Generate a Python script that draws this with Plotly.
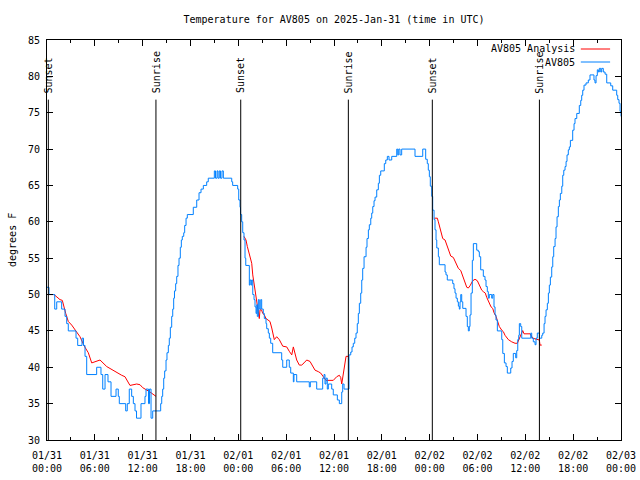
import pandas as pd
import plotly.graph_objects as go

START = "2025-01-31 00:00"
TITLE = "Temperature for AV805 on 2025-Jan-31 (time in UTC)"

# Observations (hours after 01/31 00:00 UTC, degrees F)
obs_hours = [0.0, 0.25, 0.97, 1.22, 1.84, 2.26, 2.47, 2.67, 3.64, 3.85, 4.39, 4.58, 4.77, 4.98,
             6.23, 6.77, 6.99, 7.28, 7.65, 8.03, 8.66, 8.94, 9.07, 9.87, 10.07, 10.32, 10.62,
             10.83, 11.04, 11.23, 11.79, 12.29, 12.42, 12.73, 12.86, 13.05, 13.26, 14.26, 14.39,
             14.51, 14.64, 14.76, 14.93, 15.05, 15.22, 15.34, 15.47, 15.64, 15.77, 15.89, 15.99,
             16.14, 16.27, 16.43, 16.56, 16.72, 16.85, 16.97, 17.15, 17.27, 17.44, 17.6, 18.35,
             18.78, 19.07, 19.32, 19.61, 20.03, 20.23, 20.99, 21.14, 21.33, 21.45, 21.61, 21.76,
             21.95, 22.12, 23.17, 23.29, 23.92, 24.05, 24.21, 24.27, 24.42, 24.55, 24.71, 24.84,
             24.93, 25.38, 25.47, 25.6, 25.68, 25.81, 25.97, 26.09, 26.22, 26.31, 26.38, 26.51,
             26.63, 26.81, 26.93, 27.13, 27.26, 27.47, 27.56, 27.76, 27.89, 28.06, 28.31, 29.44,
             29.57, 30.07, 30.39, 30.57, 30.9, 30.98, 31.32, 32.9, 33.03, 33.83, 34.58, 34.75,
             34.87, 35.0, 35.16, 35.29, 35.71, 35.91, 36.42, 36.67, 36.97, 37.09, 37.26, 37.88,
             38.1, 38.26, 38.42, 38.6, 38.76, 38.92, 39.05, 39.18, 39.35, 39.48, 39.6, 39.77,
             40.02, 40.14, 40.31, 40.43, 40.61, 40.73, 40.86, 41.02, 41.15, 41.36, 41.56, 41.69,
             41.86, 42.31, 42.49, 42.69, 42.9, 43.24, 43.87, 44.0, 44.12, 44.28, 44.49, 46.16,
             47.13, 47.5, 47.7, 47.83, 47.96, 48.08, 48.26, 48.38, 48.55, 48.67, 48.8, 48.89,
             49.09, 49.21, 49.93, 50.05, 50.21, 50.89, 51.05, 51.18, 51.31, 51.47, 51.6, 51.72,
             51.81, 51.9, 52.02, 52.15, 52.56, 52.72, 52.85, 52.97, 53.06, 53.19, 53.35, 53.48,
             53.9, 54.1, 54.23, 54.4, 54.73, 54.94, 55.07, 55.23, 55.36, 55.48, 55.78, 55.91,
             56.07, 56.2, 56.32, 56.49, 57.04, 57.17, 57.37, 57.58, 57.74, 58.17, 58.33, 58.49,
             58.79, 58.92, 59.05, 59.17, 59.25, 59.42, 59.55, 60.68, 60.8, 61.0, 61.22, 61.34,
             61.5, 61.76, 62.06, 62.18, 62.35, 62.47, 62.6, 62.76, 62.89, 63.01, 63.14, 63.31,
             63.44, 63.56, 63.73, 63.85, 63.98, 64.14, 64.27, 64.39, 64.57, 64.69, 64.82, 64.98,
             65.11, 65.23, 65.39, 65.52, 65.65, 65.94, 66.11, 66.23, 66.45, 66.77, 66.95, 67.07,
             67.2, 67.36, 67.61, 67.9, 68.11, 68.61, 68.74, 68.87, 69.03, 69.16, 69.28, 69.46,
             69.58, 69.78, 70.0, 70.21, 70.71, 70.96, 71.46, 71.59, 71.75, 71.88, 72.0]
obs_temp = [51, 50, 48, 49, 48, 47, 46, 45, 44, 43, 44, 43, 41.5, 39,
            40, 39, 37, 39, 38, 36, 37, 36, 35, 34, 35, 37, 36,
            35, 34, 33, 35, 36, 37, 35, 37, 33, 34, 35, 36,
            37, 38.5, 39.5, 41, 42, 43, 44, 45.5, 47, 48, 49.5, 50.5,
            51.5, 52.5, 54, 55, 56.5, 57.5, 58, 58.5, 59.5, 60.5, 61, 62,
            63, 64, 64.5, 65, 65.5, 66, 67, 66, 67, 66, 67, 66,
            67, 66, 65.5, 65, 64.5, 63, 62, 61, 60, 58.5, 57.5, 55,
            54, 51.3, 52, 51.3, 52, 50, 49.3, 48.3, 47.4, 48.6, 47, 49.3,
            48, 49.3, 48, 47.4, 46.7, 46, 45.3, 44.7, 44, 43.3, 42, 41,
            40, 41, 40, 39.2, 38, 39, 38, 37.3, 38, 37, 38.5, 39,
            37.7, 38.5, 37, 37.7, 37, 36.2, 35.5, 35, 36.6, 37.7, 37, 41.7,
            42.1, 42.8, 43.3, 44, 44.7, 46, 47.4, 48.8, 50.2, 52, 53.6, 55.2,
            56.5, 57.7, 58.9, 59.6, 60.5, 61.2, 62.1, 62.9, 63.4, 64.4, 65.3, 66.4,
            67, 68, 68.5, 69, 68.5, 69, 70, 69.2, 70, 69.2, 70, 69,
            70, 68.6, 68, 67.1, 66.2, 64.9, 63.5, 61.6, 60.3, 58.9, 57.5, 56.4,
            55.2, 54.1, 53.1, 52.7, 52, 51.5, 50.8, 50.2, 49.5, 49, 48.4, 48,
            49, 50, 49, 48.1, 47, 45.6, 45, 45.6, 47.2, 50.2, 54.7, 57,
            56.1, 55.9, 55.2, 53.4, 52.5, 52, 51.1, 50.4, 49.5, 50, 49.5, 50,
            48.3, 47.2, 46.5, 45, 43.8, 41.9, 40.6, 40.1, 39.2, 39.9, 40.8, 41.9,
            41.3, 42.3, 43.8, 44.4, 46, 45.6, 44, 44.7, 44, 43.5, 43.1, 44,
            44.7, 44, 44.4, 44.7, 46, 47, 47.9, 48.8, 50.2, 51.3, 52.4, 53.8,
            55.2, 56.6, 57.7, 59.3, 60.7, 62.1, 63, 63.9, 64.9, 66.4, 67.1, 67.6,
            68.3, 69.2, 69.9, 70.3, 71.2, 72.6, 73.5, 74.2, 74.9, 76, 76.7, 77.4,
            78.1, 78.8, 79.1, 79.5, 80.2, 79.5, 79.1, 80.1, 80.9, 80.6, 81.1, 80.6,
            81.1, 80.6, 80.3, 79.1, 78.7, 78.1, 77.4, 76.8, 76.3, 75.2, 74.5]

# Analysis (three night-time segments)
ana1_hours = [0.1, 0.88, 1.63, 1.92, 2.35, 2.67, 3.1, 3.64, 4.14, 4.68, 5.18, 5.61, 6.02, 6.65,
              7.49, 8.53, 9.37, 9.78, 10.41, 11.25, 11.67, 12.0, 12.51, 12.92, 13.67]
ana1_temp = [50.0, 50.0, 49.3, 49.2, 47.4, 46.3, 45.8, 45.0, 44.2, 42.9, 42.0, 40.6, 40.8, 41.0,
             40.1, 39.4, 38.9, 38.7, 37.5, 37.7, 37.6, 37.2, 36.9, 36.6, 36.0]
ana2_hours = [24.71, 24.96, 25.13, 25.34, 25.55, 25.68, 25.81, 25.97, 26.09, 26.22, 26.38, 26.56,
              26.63, 26.72, 26.91, 27.06, 27.26, 27.47, 27.76, 27.97, 28.19, 28.31, 28.51, 28.81,
              29.14, 29.57, 30.07, 30.39, 30.7, 30.9, 31.11, 31.32, 31.65, 31.95, 32.24, 32.58,
              32.99, 33.33, 33.62, 34.03, 34.33, 34.66, 35.0, 35.91, 36.34, 36.67, 36.84, 36.97,
              37.09, 37.38, 37.51, 37.8]
ana2_temp = [58.0, 57.5, 56.6, 55.7, 54.5, 54.3, 52.7, 51.5, 50.4, 49.3, 48.3, 47.2,
             46.7, 47.9, 47.9, 47.4, 47.2, 46.7, 46.5, 46.3, 45.4, 44.7, 43.8, 44.2,
             43.8, 42.9, 42.8, 42.2, 41.7, 42.8, 41.9, 41.0, 40.3, 40.3, 40.6, 41.0,
             40.8, 40.1, 39.6, 39.4, 39.2, 38.7, 38.2, 38.2, 38.7, 38.9, 38.6, 37.7,
             38.5, 40.3, 41.5, 41.5]
ana3_hours = [48.58, 48.96, 49.09, 49.21, 49.39, 49.64, 49.93, 50.14, 50.34, 50.64, 50.97, 51.31,
              51.6, 51.9, 52.15, 52.43, 52.65, 52.85, 53.06, 53.4, 53.69, 53.98, 54.23, 54.53,
              54.73, 54.98, 55.16, 55.36, 55.57, 55.7, 55.91, 56.07, 56.32, 56.54, 56.74, 57.04,
              57.24, 57.45, 57.67, 57.87, 58.29, 58.71, 59.0, 59.21, 59.46, 59.67, 59.84, 60.59,
              60.93, 61.22, 61.5, 61.76, 61.84, 62.06]
ana3_temp = [60.5, 60.5, 60.0, 59.4, 58.7, 57.7, 57.5, 56.8, 56.1, 55.3, 55.1, 54.3,
             53.6, 53.3, 52.5, 51.6, 51.0, 50.9, 51.2, 51.9, 52.1, 51.9, 51.3, 50.6,
             50.4, 50.2, 49.6, 49.1, 48.6, 48.3, 48.1, 47.5, 47.0, 46.3, 45.6, 45.1,
             44.9, 44.4, 44.0, 43.8, 43.5, 43.3, 43.3, 43.8, 44.4, 45.05, 44.6, 44.6,
             44.0, 43.9, 43.75, 43.75, 43.05, 43.05]

# Sun events
sun_times = ["2025-01-31 00:10", "2025-01-31 13:40", "2025-02-01 00:18",
             "2025-02-01 13:48", "2025-02-02 00:20", "2025-02-02 13:46"]
sun_labels = ["Sunset", "Sunrise", "Sunset", "Sunrise", "Sunset", "Sunrise"]

RED = "#ff0000"
BLUE = "#0080ff"
FONT = "DejaVu Sans Mono"
FS = 10

t0 = pd.Timestamp(START)


def to_time(hours):
    return [t0 + pd.Timedelta(hours=h) for h in hours]


fig = go.Figure()
for hrs, tmp in [(ana1_hours, ana1_temp), (ana2_hours, ana2_temp), (ana3_hours, ana3_temp)]:
    fig.add_trace(go.Scatter(x=to_time(hrs), y=tmp, mode="lines",
                             line=dict(color=RED, width=1), showlegend=False, hoverinfo="skip"))
fig.add_trace(go.Scatter(x=to_time(obs_hours), y=obs_temp, mode="lines",
                         line=dict(color=BLUE, width=1, shape="hv"), showlegend=False))

for t, lab in zip(sun_times, sun_labels):
    fig.add_shape(type="line", xref="x", yref="y", x0=t, x1=t, y0=30, y1=76.8,
                  line=dict(color="black", width=1))
    fig.add_annotation(x=t, y=77.4, xref="x", yref="y", text=lab, showarrow=False,
                       textangle=-90, xanchor="center", yanchor="bottom",
                       font=dict(family=FONT, size=FS, color="black"))

# gnuplot-style legend: text on the left, line sample on the right
legend_rows = [("AV805 Analysis", RED, 0.9775), ("AV805", BLUE, 0.945)]
for name, col, yy in legend_rows:
    fig.add_annotation(x=0.9233, y=yy, xref="paper", yref="paper", text=name,
                       showarrow=False, xanchor="right", yanchor="middle",
                       font=dict(family=FONT, size=FS, color="black"))
    fig.add_shape(type="line", xref="paper", yref="paper", x0=0.930, x1=0.981,
                  y0=yy, y1=yy, line=dict(color=col, width=1))

fig.add_annotation(x=-0.061, y=0.5, xref="paper", yref="paper", text="degrees F",
                   showarrow=False, textangle=-90, xanchor="center", yanchor="middle",
                   font=dict(family=FONT, size=FS, color="black"))

fig.update_layout(
    width=640, height=480,
    margin=dict(l=47, r=19, t=40, b=40, autoexpand=False),
    paper_bgcolor="white", plot_bgcolor="white",
    font=dict(family=FONT, size=FS, color="black"),
    title=dict(text=TITLE, x=0.5, xref="paper", xanchor="center", y=1 - 19 / 480,
               yanchor="middle", yref="container",
               font=dict(family=FONT, size=FS, color="black")),
    showlegend=False,
)
fig.update_xaxes(
    type="date", range=["2025-01-31 00:00", "2025-02-03 00:00"],
    tick0="2025-01-31 00:00", dtick=6 * 3600 * 1000, tickformat="%m/%d<br>%H:%M",
    ticks="inside", ticklen=6, tickcolor="black", showgrid=False, zeroline=False,
    showline=True, linecolor="black", linewidth=1, mirror="ticks", automargin=False,
    ticklabelstandoff=6,
    minor=dict(dtick=3 * 3600 * 1000, ticks="inside", ticklen=3, tickcolor="black", showgrid=False),
    tickfont=dict(family=FONT, size=FS, color="black"),
)
fig.update_yaxes(
    range=[30, 85], tick0=30, dtick=5, ticks="inside", ticklen=6, tickcolor="black",
    showgrid=False, zeroline=False, showline=True, linecolor="black", linewidth=1,
    mirror="ticks", automargin=False, ticklabelstandoff=4,
    tickfont=dict(family=FONT, size=FS, color="black"),
)

fig.write_html("out.html", config={"displayModeBar": False},
               post_script="document.body.style.margin='0';document.body.style.overflow='hidden';")
